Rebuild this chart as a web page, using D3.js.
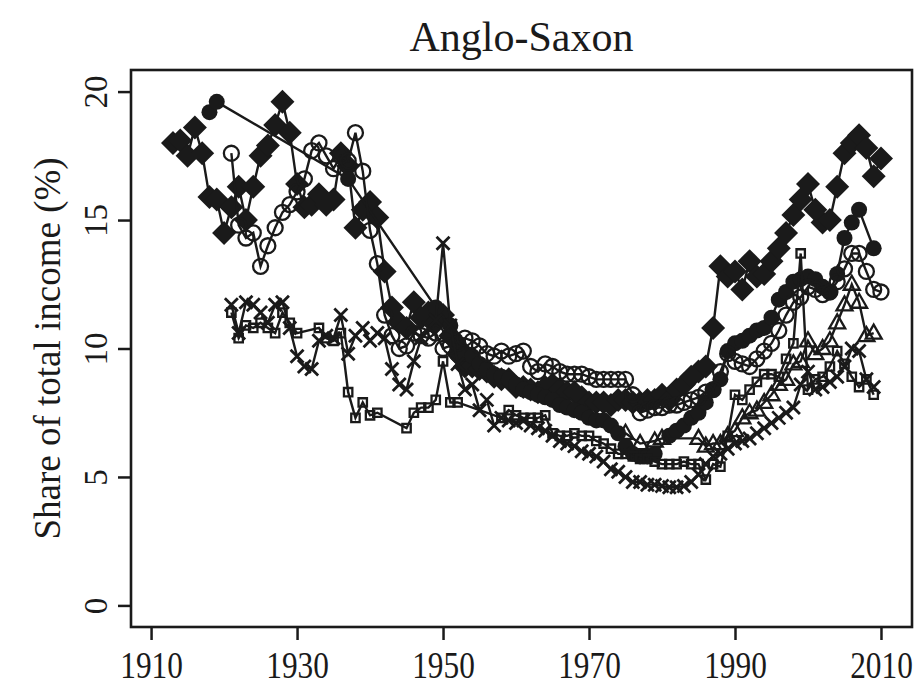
<!DOCTYPE html>
<html>
<head>
<meta charset="utf-8">
<script src="https://cdn.jsdelivr.net/npm/d3@7"></script>
<style>
body { margin: 0; background: #fff; }
svg text { font-family: "Liberation Serif", "Times New Roman", Times, serif !important; fill: #1a1a1a; }
</style>
</head>
<body>
<div id="chart"></div>
<script>
// top 1% income shares
var usYears = d3.range(1913, 2011);
var usShare = [18.0, 18.1, 17.5, 18.6, 17.6, 15.9, 15.8, 14.5, 15.5, 16.3,
  15.0, 16.3, 17.5, 17.9, 18.7, 19.6, 18.4, 16.4, 15.5, 15.6,
  16.0, 15.6, 15.8, 17.6, 17.1, 14.7, 15.4, 15.7, 15.1, 13.0,
  11.6, 11.0, 10.8, 11.8, 11.2, 11.4, 11.0, 11.3, 10.5, 9.8,
  9.3, 9.3, 9.2, 9.1, 8.9, 8.8, 8.8, 8.5, 8.5, 8.4,
  8.3, 8.5, 8.6, 8.4, 8.3, 8.3, 8.1, 7.9, 7.9, 7.9,
  7.8, 8.0, 8.0, 7.9, 7.9, 8.0, 8.0, 8.2, 8.0, 8.4,
  8.6, 8.9, 9.1, 9.3, 10.8, 13.2, 12.8, 13.0, 12.3, 13.4,
  12.8, 12.9, 13.4, 13.9, 14.5, 15.2, 15.8, 16.4, 15.4, 14.9,
  15.0, 16.3, 17.6, 18.0, 18.3, 17.8, 16.7, 17.4];

var ukYears = [1918, 1919, 1937, 1949].concat(d3.range(1951, 1980), d3.range(1981, 2008), [2009]);
var ukShare = [19.2, 19.6, 16.6, 11.6,
  10.9, 10.2, 9.8, 9.7, 9.4, 9.2, 9.0, 8.9, 8.8, 8.6,
  8.4, 8.3, 8.2, 8.1, 8.0, 7.8, 7.7, 7.6, 7.5, 7.3,
  7.2, 7.2, 7.0, 6.7, 6.2, 5.9, 5.8, 5.8, 5.9,
  6.6, 6.8, 7.0, 7.3, 7.5, 7.9, 8.4, 8.8, 9.9, 10.2,
  10.3, 10.5, 10.7, 10.8, 11.2, 11.9, 12.2, 12.6, 12.7, 12.8,
  12.7, 12.4, 12.2, 12.9, 14.3, 14.9, 15.4,
  13.9];

var caYears = d3.range(1921, 2011);
var caShare = [17.6, 14.8, 14.3, 14.5, 13.2, 14.0, 14.7, 15.3, 15.6, 16.1,
  16.6, 17.7, 18.0, 17.5, 17.0, 17.5, 17.3, 18.4, 16.9, 14.6,
  13.3, 11.3, 10.5, 10.0, 10.1, 10.6, 10.5, 10.4, 10.6, 10.0,
  10.1, 10.2, 10.4, 10.3, 10.1, 9.8, 9.7, 9.9, 9.7, 9.8,
  9.9, 9.3, 9.1, 9.4, 9.3, 9.1, 9.0, 9.0, 9.0, 8.9,
  8.8, 8.8, 8.8, 8.8, 8.8, 8.2, 7.5, 7.6, 7.7, 7.7,
  7.8, 7.8, 7.9, 8.0, 8.1, 8.3, 8.4, 9.1, 9.8, 9.5,
  9.4, 9.3, 9.6, 9.9, 10.2, 10.7, 11.3, 11.8, 12.0, 12.4,
  12.3, 12.1, 12.2, 12.6, 13.1, 13.7, 13.7, 13.0, 12.3, 12.2];

var auYears = d3.range(1921, 2010);
var auShare = [11.7, 10.6, 11.8, 11.7, 11.4, 11.0, 11.7, 11.8, 10.8, 9.7,
  9.3, 9.2, 10.3, 10.5, 10.4, 11.3, 9.8, 10.5, 10.8, 10.3,
  10.6, 10.4, 9.2, 8.6, 8.4, 9.5, 10.4, 10.8, 11.1, 14.1,
  10.9, 9.4, 8.4, 8.6, 7.6, 8.0, 7.0, 7.3, 7.2, 7.1,
  7.2, 7.0, 6.9, 6.8, 6.6, 6.4, 6.3, 6.2, 6.0, 5.9,
  5.8, 5.6, 5.3, 5.2, 5.0, 4.8, 4.8, 4.7, 4.7, 4.65,
  4.6, 4.6, 4.65, 4.8, 5.1, 5.5, 5.8, 5.9, 6.1, 6.3,
  6.4, 6.5, 6.7, 6.9, 7.1, 7.3, 7.5, 7.7, 8.6, 9.1,
  8.4, 8.5, 8.7, 8.9, 9.3, 10.0, 9.9, 8.8, 8.5];

var nzYears = d3.range(1921, 1931).concat(d3.range(1933, 1942), d3.range(1945, 1953), d3.range(1958, 2010));
var nzShare = [11.4, 10.4, 10.9, 10.8, 11.0, 10.8, 10.6, 11.4, 11.0, 10.6,
  10.8, 10.4, 10.3, 10.6, 8.3, 7.3, 7.9, 7.4, 7.5,
  6.9, 7.5, 7.7, 7.7, 8.0, 9.5, 7.9, 7.9,
  7.3, 7.6, 7.4, 7.3, 7.3, 7.3, 7.4, 6.7, 6.6, 6.6,
  6.7, 6.6, 6.6, 6.4, 6.3, 6.1, 5.9, 5.9, 5.8, 5.7,
  5.7, 5.6, 5.5, 5.5, 5.5, 5.6, 5.5, 5.5, 4.9, 5.5,
  5.4, 6.6, 8.2, 8.0, 8.4, 8.7, 9.0, 9.0, 8.9, 9.6,
  10.2, 13.7, 8.4, 8.8, 8.9, 9.3, 9.9, 9.4, 8.9, 8.5,
  8.8, 8.2];

var ieYears = [1975, 1977, 1979, 1980].concat(d3.range(1985, 2010));
var ieShare = [6.7, 6.3, 6.4, 6.5,
  6.5, 6.2, 6.3, 6.3, 6.6, 6.8, 7.3, 7.5, 7.6, 7.9,
  8.2, 8.6, 8.8, 9.4, 9.5, 10.3, 9.8, 10.0, 10.3, 11.0,
  11.7, 12.5, 11.8, 10.5, 10.6];

var xTicks = [1910, 1930, 1950, 1970, 1990, 2010];
var yTicks = [0, 5, 10, 15, 20];

var series = [
  {years: usYears, values: usShare, shape: "diamond"},
  {years: ukYears, values: ukShare, shape: "dot"},
  {years: caYears, values: caShare, shape: "circle"},
  {years: auYears, values: auShare, shape: "cross"},
  {years: nzYears, values: nzShare, shape: "square"},
  {years: ieYears, values: ieShare, shape: "triangle"}
];

var width = 919, height = 689;
var box = {left: 131, right: 912, top: 70, bottom: 627};
var ink = "#1a1a1a";

var svg = d3.select("#chart").append("svg")
  .attr("width", width)
  .attr("height", height);

var xScale = d3.scaleLinear().domain([1907.25, 2014.25]).range([box.left, box.right]);
var yScale = d3.scaleLinear().domain([-0.84, 20.84]).range([box.bottom, box.top]);

//title
svg.append("text")
  .attr("x", (box.left + box.right) / 2)
  .attr("y", 51)
  .attr("text-anchor", "middle")
  .style("font-size", "42px")
  .text("Anglo-Saxon");

//axes
var xAxis = d3.axisBottom(xScale).tickValues(xTicks).tickSize(13).tickFormat(d3.format("d"));
var yAxis = d3.axisLeft(yScale).tickValues(yTicks).tickSize(13);

var xAxisGroup = svg.append("g")
  .attr("transform", "translate(0," + box.bottom + ")")
  .call(xAxis);
var yAxisGroup = svg.append("g")
  .attr("transform", "translate(" + box.left + ",0)")
  .call(yAxis);

[xAxisGroup, yAxisGroup].forEach(function(g) {
  g.attr("font-family", null);
  g.select(".domain").remove();
  g.selectAll(".tick line").attr("stroke", ink).attr("stroke-width", 2.5);
  g.selectAll(".tick text").style("font-size", "33px").attr("fill", ink);
});

// x labels a bit taller than wide, like the scanned original
xAxisGroup.selectAll(".tick text")
  .attr("y", null)
  .attr("dy", null)
  .attr("transform", "translate(0,51) scale(0.95,1.17)");

yAxisGroup.selectAll(".tick text")
  .attr("x", null)
  .attr("dy", null)
  .attr("text-anchor", "middle")
  .attr("transform", "translate(-24,0) rotate(-90)");

svg.append("text")
  .attr("transform", "translate(60," + (box.top + box.bottom) / 2 + ") rotate(-90)")
  .attr("text-anchor", "middle")
  .style("font-size", "37px")
  .text("Share of total income (%)");

//plot box
svg.append("rect")
  .attr("x", box.left)
  .attr("y", box.top)
  .attr("width", box.right - box.left)
  .attr("height", box.bottom - box.top)
  .attr("fill", "none")
  .attr("stroke", ink)
  .attr("stroke-width", 2.6);

var line = d3.line()
  .x(function(d) { return xScale(d[0]); })
  .y(function(d) { return yScale(d[1]); });

function marker(shape) {
  switch (shape) {
    case "diamond": return "M0,-12L12,0L0,12L-12,0Z";
    case "dot": return d3.symbol(d3.symbolCircle, Math.PI * 8 * 8)();
    case "circle": return d3.symbol(d3.symbolCircle, Math.PI * 7.5 * 7.5)();
    case "cross": return "M-6.5,-6.5L6.5,6.5M-6.5,6.5L6.5,-6.5";
    case "square": return "M-4.2,-4.2H4.2V4.2H-4.2Z";
    case "triangle": return "M0,-8.5L8,5.5L-8,5.5Z";
  }
}

var plot = svg.append("g");

series.forEach(function(s) {
  var pts = s.years.map(function(y, i) { return [y, s.values[i]]; });
  var g = plot.append("g");
  g.append("path")
    .datum(pts)
    .attr("d", line)
    .attr("fill", "none")
    .attr("stroke", ink)
    .attr("stroke-width", 2.4);
  var filled = (s.shape == "diamond" || s.shape == "dot");
  g.selectAll(".pt")
    .data(pts)
    .enter()
    .append("path")
    .attr("transform", function(d) { return "translate(" + xScale(d[0]) + "," + yScale(d[1]) + ")"; })
    .attr("d", marker(s.shape))
    .attr("fill", filled ? ink : "none")
    .attr("stroke", ink)
    .attr("stroke-width", filled ? 0 : (s.shape == "cross" ? 2.8 : 2.3));
});
</script>
</body>
</html>
